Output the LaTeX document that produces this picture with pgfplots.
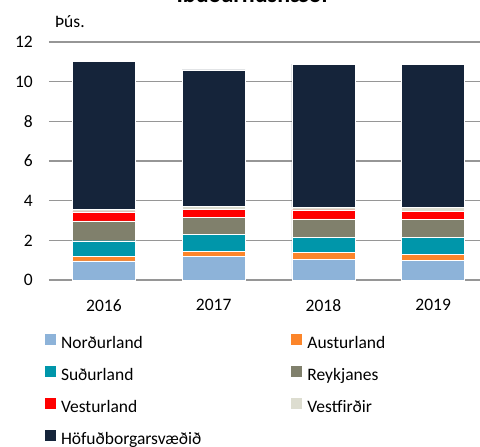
\documentclass[border=0pt]{standalone}
\usepackage{fontspec}
\setmainfont{Carlito}
\usepackage{pgfplots}
\pgfplotsset{compat=1.18}

\definecolor{nord}{RGB}{141,179,217}
\definecolor{aust}{RGB}{252,133,42}
\definecolor{sud}{RGB}{0,150,170}
\definecolor{reyk}{RGB}{128,128,108}
\definecolor{vest}{RGB}{255,0,0}
\definecolor{vfj}{RGB}{221,221,208}
\definecolor{hofud}{RGB}{21,36,58}
\definecolor{gridc}{RGB}{150,150,150}

\begin{document}
\begin{tikzpicture}[font=\fontsize{17.5}{21}\selectfont]
\begin{axis}[
    scale only axis,
    width=439pt, height=238pt,
    ybar stacked, bar width=63pt,
    xmin=-0.5, xmax=3.5,
    ymin=0, ymax=12,
    xtick={0,1,2,3},
    xticklabels={2016,2017,2018,2019},
    ytick={0,2,...,12},
    /pgf/number format/assume math mode=true,
    axis x line*=bottom, axis y line*=left,
    y axis line style={draw=none},
    x axis line style={gridc, line width=1.5pt, -},
    ymajorgrids, grid style={gridc, line width=1.5pt},
    major tick length=0pt,
    xticklabel style={anchor=north, inner sep=0pt, yshift=-19pt},
    yticklabel style={anchor=east, inner sep=0pt, xshift=-16pt},
    clip=false,
    every axis plot/.append style={draw=white, line width=0.4pt},
    legend columns=2,
    legend cell align=left,
    legend style={draw=none, fill=none, inner sep=0pt, outer sep=0pt,
        at={(-0.0091,-0.227)}, anchor=north west,
        nodes={inner sep=0pt, text height=12.5pt, text depth=3.5pt},
        row sep=14pt,
        /tikz/every odd column/.append style={column sep=5pt},
        /tikz/every even column/.append style={column sep=90pt}},
    legend image code/.code={\fill[#1, draw=none] (0pt,-1pt) rectangle (11pt,10pt);},
]
\addplot[fill=nord] coordinates {(0,0.97) (1,1.18) (2,1.04) (3,0.99)};
\addplot[fill=aust] coordinates {(0,0.24) (1,0.28) (2,0.34) (3,0.32)};
\addplot[fill=sud] coordinates {(0,0.77) (1,0.84) (2,0.77) (3,0.84)};
\addplot[fill=reyk] coordinates {(0,1.00) (1,0.86) (2,0.93) (3,0.91)};
\addplot[fill=vest] coordinates {(0,0.45) (1,0.40) (2,0.45) (3,0.40)};
\addplot[fill=vfj] coordinates {(0,0.13) (1,0.17) (2,0.14) (3,0.19)};
\addplot[fill=hofud] coordinates {(0,7.48) (1,6.86) (2,7.22) (3,7.24)};
\legend{Norðurland,Austurland,Suðurland,Reykjanes,Vesturland,Vestfirðir,Höfuðborgarsvæðið}
\end{axis}
\node[anchor=base west, inner sep=0pt] at (6pt,252pt) {Þús.};
\node[anchor=base, inner sep=0pt, font=\bfseries\fontsize{24}{28}\selectfont] at (203pt,277pt) {Íbúðarhúsnæði};
\pgfresetboundingbox
\useasboundingbox (-49pt,-167pt) rectangle (431pt,280pt);
\end{tikzpicture}
\end{document}
